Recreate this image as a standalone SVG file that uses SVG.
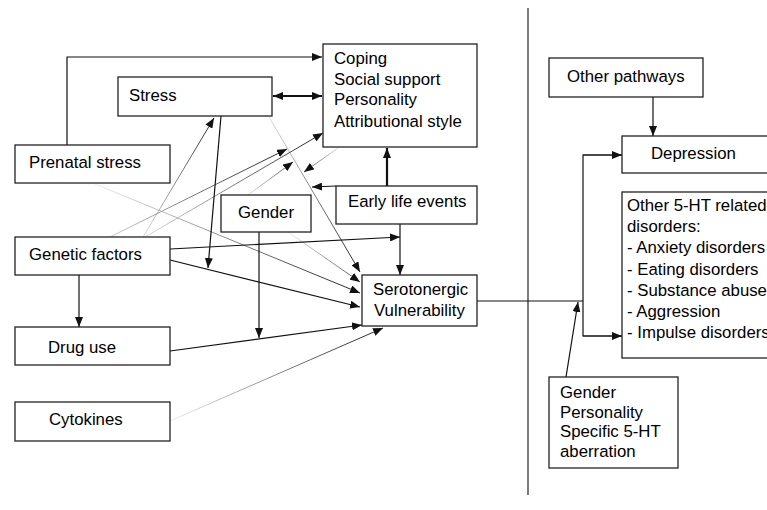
<svg xmlns="http://www.w3.org/2000/svg" width="767" height="510" viewBox="0 0 767 510">
<style>
.box{fill:#fff;stroke:#222;stroke-width:1.3}
.t{font-family:"Liberation Sans",Arial,sans-serif;font-size:16.8px;fill:#000}
.ln{fill:none;stroke:#111;stroke-width:1.2}
.thick{fill:none;stroke:#111;stroke-width:2.2}
.gl{fill:none;stroke-width:1}
.div{fill:none;stroke:#333;stroke-width:1.3}
</style>
<defs>
<marker id="ah" markerUnits="userSpaceOnUse" markerWidth="10" markerHeight="8" refX="10" refY="4" orient="auto">
<path d="M0,0 L10,4 L0,8 z" fill="#111"/>
</marker>
<marker id="ahs" markerUnits="userSpaceOnUse" markerWidth="10" markerHeight="8" refX="0" refY="4" orient="auto">
<path d="M10,0 L0,4 L10,8 z" fill="#111"/>
</marker>
<linearGradient id="g1" gradientUnits="userSpaceOnUse" x1="269" y1="117" x2="360" y2="272"><stop offset="0" stop-color="#ddd"/><stop offset="1" stop-color="#222"/></linearGradient>
<linearGradient id="g2" gradientUnits="userSpaceOnUse" x1="95" y1="184" x2="360" y2="293"><stop offset="0" stop-color="#eee"/><stop offset="1" stop-color="#222"/></linearGradient>
<linearGradient id="g3" gradientUnits="userSpaceOnUse" x1="143" y1="237" x2="214" y2="118"><stop offset="0" stop-color="#ddd"/><stop offset="1" stop-color="#222"/></linearGradient>
<linearGradient id="g4" gradientUnits="userSpaceOnUse" x1="145" y1="237" x2="323" y2="133"><stop offset="0" stop-color="#ddd"/><stop offset="1" stop-color="#222"/></linearGradient>
<linearGradient id="g5" gradientUnits="userSpaceOnUse" x1="110" y1="237" x2="287" y2="149"><stop offset="0" stop-color="#ccc"/><stop offset="1" stop-color="#222"/></linearGradient>
<linearGradient id="g6" gradientUnits="userSpaceOnUse" x1="248" y1="195" x2="293" y2="162"><stop offset="0" stop-color="#ddd"/><stop offset="1" stop-color="#555"/></linearGradient>
<linearGradient id="g7" gradientUnits="userSpaceOnUse" x1="288" y1="232" x2="360" y2="282"><stop offset="0" stop-color="#eee"/><stop offset="1" stop-color="#555"/></linearGradient>
<linearGradient id="g8" gradientUnits="userSpaceOnUse" x1="338" y1="148" x2="304" y2="172"><stop offset="0" stop-color="#ddd"/><stop offset="1" stop-color="#555"/></linearGradient>
<linearGradient id="g9" gradientUnits="userSpaceOnUse" x1="170" y1="421" x2="383" y2="328"><stop offset="0" stop-color="#eee"/><stop offset="1" stop-color="#222"/></linearGradient>
</defs>

<g id="connectors">
<line class="div" x1="528" y1="8" x2="528" y2="495"/>
<polyline class="ln" points="67,145 67,57 322,57" marker-end="url(#ah)"/>
<line class="thick" x1="273" y1="96" x2="322" y2="96" marker-start="url(#ahs)" marker-end="url(#ah)"/>
<line class="thick" x1="387" y1="186" x2="387" y2="148" marker-end="url(#ah)"/>
<line class="gl" stroke="url(#g1)" x1="269" y1="117" x2="360" y2="272" marker-end="url(#ah)"/>
<line class="gl" stroke="url(#g2)" x1="95" y1="184" x2="360" y2="293" marker-end="url(#ah)"/>
<line class="gl" stroke="url(#g3)" x1="143" y1="237" x2="214" y2="118" marker-end="url(#ah)"/>
<line class="gl" stroke="url(#g4)" x1="145" y1="237" x2="323" y2="133" marker-end="url(#ah)"/>
<line class="gl" stroke="url(#g5)" x1="110" y1="237" x2="287" y2="149" marker-end="url(#ah)"/>
<line class="gl" stroke="url(#g6)" x1="248" y1="195" x2="293" y2="162" marker-end="url(#ah)"/>
<line class="gl" stroke="url(#g7)" x1="288" y1="232" x2="360" y2="282" marker-end="url(#ah)"/>
<line class="gl" stroke="url(#g8)" x1="338" y1="148" x2="304" y2="172" marker-end="url(#ah)"/>
<line class="gl" stroke="url(#g9)" x1="170" y1="421" x2="383" y2="328" marker-end="url(#ah)"/>
<line class="ln" x1="336" y1="186" x2="312" y2="187" marker-end="url(#ah)"/>
<line class="ln" x1="400" y1="224" x2="400" y2="275" marker-end="url(#ah)"/>
<line class="ln" x1="170" y1="249" x2="400" y2="237" marker-end="url(#ah)"/>
<line class="ln" x1="170" y1="260" x2="360" y2="307" marker-end="url(#ah)"/>
<line class="ln" x1="170" y1="351" x2="362" y2="325" marker-end="url(#ah)"/>
<line class="ln" x1="221" y1="116" x2="208" y2="268" marker-end="url(#ah)"/>
<line class="ln" stroke="#333" x1="259" y1="232" x2="259" y2="338" marker-end="url(#ah)"/>
<line class="ln" x1="79" y1="275" x2="79" y2="327" marker-end="url(#ah)"/>
<line class="ln" x1="653" y1="97" x2="653" y2="136" marker-end="url(#ah)"/>
<line class="ln" x1="477" y1="301" x2="583" y2="301"/>
<polyline class="ln" points="622,155 583,155 583,336 622,336"/>
<line class="ln" x1="583" y1="155" x2="622" y2="155" marker-end="url(#ah)"/>
<line class="ln" x1="583" y1="336" x2="622" y2="336" marker-end="url(#ah)"/>
<line class="ln" x1="566" y1="377" x2="578" y2="302" marker-end="url(#ah)"/>
</g>

<g id="coping"><rect class="box" x="323" y="44" width="154" height="103"/>
<text class="t" x="334" y="64">Coping</text>
<text class="t" x="334" y="85">Social support</text>
<text class="t" x="334" y="105">Personality</text>
<text class="t" x="334" y="127">Attributional style</text></g>
<g id="stress"><rect class="box" x="118" y="77" width="154" height="39"/><text class="t" x="129" y="101">Stress</text></g>
<g id="prenatal"><rect class="box" x="15" y="145" width="155" height="38"/><text class="t" x="29" y="168">Prenatal stress</text></g>
<g id="genetic"><rect class="box" x="15" y="237" width="155" height="38"/><text class="t" x="29" y="260">Genetic factors</text></g>
<g id="druguse"><rect class="box" x="15" y="327" width="155" height="38"/><text class="t" x="48" y="353">Drug use</text></g>
<g id="cytokines"><rect class="box" x="15" y="402" width="155" height="39"/><text class="t" x="49" y="425">Cytokines</text></g>
<g id="gender"><rect class="box" x="221" y="195" width="90" height="37"/><text class="t" x="238" y="218">Gender</text></g>
<g id="early"><rect class="box" x="336" y="186" width="141" height="38"/><text class="t" x="348" y="207">Early life events</text></g>
<g id="serotonergic"><rect class="box" x="362" y="275" width="115" height="51"/>
<text class="t" x="373" y="295">Serotonergic</text><text class="t" x="374" y="316">Vulnerability</text></g>
<g id="otherpathways"><rect class="box" x="549" y="58" width="154" height="39"/><text class="t" x="567" y="82">Other pathways</text></g>
<g id="depression"><rect class="box" x="622" y="136" width="200" height="37"/><text class="t" x="651" y="159">Depression</text></g>
<g id="other5ht"><rect class="box" x="622" y="192" width="200" height="166"/>
<text class="t" x="627" y="211">Other 5-HT related</text>
<text class="t" x="627" y="232">disorders:</text>
<text class="t" x="627" y="253">- Anxiety disorders</text>
<text class="t" x="627" y="274.5">- Eating disorders</text>
<text class="t" x="627" y="296">- Substance abuse</text>
<text class="t" x="627" y="317">- Aggression</text>
<text class="t" x="627" y="338">- Impulse disorders</text></g>
<g id="moderators"><rect class="box" x="549" y="377" width="129" height="91"/>
<text class="t" x="560" y="398">Gender</text>
<text class="t" x="560" y="418">Personality</text>
<text class="t" x="560" y="437">Specific 5-HT</text>
<text class="t" x="560" y="457">aberration</text></g>
</svg>
